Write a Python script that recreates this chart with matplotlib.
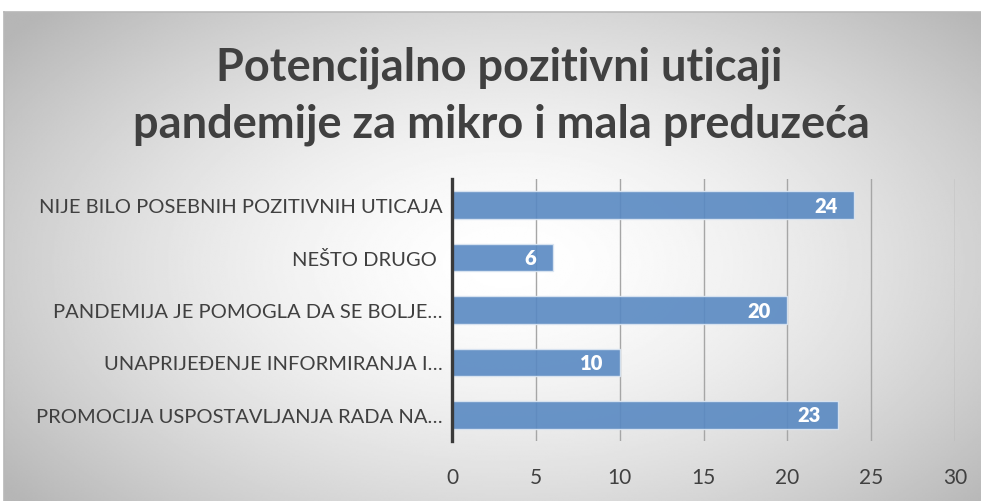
import numpy as np
from matplotlib import pyplot as plt
from matplotlib import patches as pat

categories = [
    "PROMOCIJA USPOSTAVLJANJA RADA NA…",
    "UNAPRIJEĐENJE INFORMIRANJA I…",
    "PANDEMIJA JE POMOGLA DA SE BOLJE…",
    "NEŠTO DRUGO ",
    "NIJE BILO POSEBNIH POZITIVNIH UTICAJA",
]
values = [23, 10, 20, 6, 24]
x_ticks = [0, 5, 10, 15, 20, 25, 30]
title_lines = ["Potencijalno pozitivni uticaji", "pandemije za mikro i mala preduzeća"]

plt.rcParams['font.family'] = ['Lato', 'DejaVu Sans']

W, H = 981, 502
fig = plt.figure(figsize=(W / 100, H / 100), dpi=100)
fig.patch.set_facecolor('white')


def main():
    # radial gray background of the chart box, runs off the right and bottom edges
    bg = fig.add_axes([4 / W, -0.03, 1 - 4 / W + 0.03, 1 - 13 / H + 0.03])
    yy, xx = np.mgrid[0:300, 0:600]
    cx, cy = 300, 150
    r = np.sqrt(((xx - cx) / 330.0) ** 2 + ((yy - cy) / 190.0) ** 2)
    shade = 1.0 - 0.23 * np.clip(r, 0, 1.15) ** 1.6
    bg.imshow(shade, cmap='gray', vmin=0, vmax=1, aspect='auto',
              extent=[0, 1, 0, 1], interpolation='bilinear')
    bg.set_xlim(0, 1)
    bg.set_ylim(0, 1)
    bg.set_xticks([])
    bg.set_yticks([])
    for s in ['right', 'bottom']:
        bg.spines[s].set_visible(False)
    for s in ['top', 'left']:
        bg.spines[s].set_color('#b8b8b8')
        bg.spines[s].set_linewidth(1.2)

    ax = fig.add_axes([452 / W, 1 - 442 / H, (955 - 452) / W, (442 - 180) / H])
    ax.patch.set_alpha(0)
    y = np.arange(len(categories))
    ax.barh(y, values, height=0.53, color='#5989c2', alpha=0.9,
            edgecolor='#dce6f2', linewidth=1.0, zorder=2)
    for yi, v in zip(y, values):
        ax.annotate(str(v), (v, yi), xytext=(-12, 0), textcoords='offset points',
                    ha='right', va='center', color='white', fontsize=14.5,
                    fontweight='heavy', zorder=3)

    ax.set_xlim(0, 30)
    ax.set_ylim(-0.5, len(categories) - 0.5)
    ax.set_xticks(x_ticks)
    ax.set_yticks(y)
    ax.set_yticklabels(categories)
    ax.xaxis.grid(True, color='#a6a6a6', linewidth=1.0, zorder=1)
    ax.set_axisbelow(True)
    ax.tick_params(axis='x', length=0, pad=19, labelsize=15, labelcolor='#404040')
    ax.tick_params(axis='y', length=0, pad=7, labelsize=14.5, labelcolor='#404040')
    for s in ['top', 'right', 'bottom']:
        ax.spines[s].set_visible(False)
    ax.spines['left'].set_color('#3a3a3a')
    ax.spines['left'].set_linewidth(2.4)

    fig.text(499 / W, 1 - 68 / H, title_lines[0], ha='center', va='center',
             fontsize=32.5, fontweight='bold', color='#404040')
    fig.text(501 / W, 1 - 125 / H, title_lines[1], ha='center', va='center',
             fontsize=32.5, fontweight='bold', color='#404040')

    fig.savefig('out.png', dpi=100)


if __name__ == '__main__':
    main()
